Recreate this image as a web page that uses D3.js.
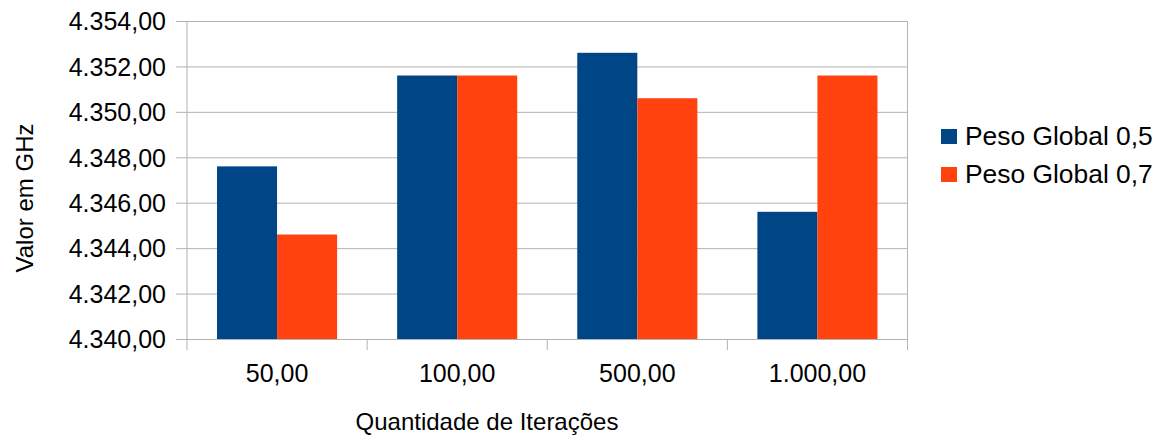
<!DOCTYPE html>
<html>
<head>
<meta charset="utf-8">
<script src="https://cdn.jsdelivr.net/npm/d3@7"></script>
<style>
  html, body { margin: 0; padding: 0; background: #ffffff; }
  svg { display: block; font-family: "Liberation Sans", Arial, sans-serif; }
</style>
</head>
<body>
<svg id="chart" width="1165" height="436"></svg>
<script>
// Iteration counts on the x axis
const categories = ["50,00", "100,00", "500,00", "1.000,00"];
// Series names
const seriesNames = ["Peso Global 0,5", "Peso Global 0,7"];
// Frequency (GHz) per iteration count, one array per global weight
const peso05 = [4347.6, 4351.6, 4352.6, 4345.6];
const peso07 = [4344.6, 4351.6, 4350.6, 4351.6];
// Y axis ticks
const yTicks = [4340, 4342, 4344, 4346, 4348, 4350, 4352, 4354];
const colors = ["#004586", "#ff420e"];

const series = [peso05, peso07];

const svg = d3.select("#chart");
const m = { left: 187, right: 907.5, top: 21, bottom: 339 };

const x = d3.scaleBand().domain(categories).range([m.left, m.right]).paddingInner(1/3).paddingOuter(1/6);
const xBand = d3.scaleBand().domain(d3.range(series.length)).range([0, x.bandwidth()]);
const y = d3.scaleLinear().domain([4340, 4354]).range([m.bottom, m.top]);

// pt-BR number format: dot for thousands, comma for decimals
const fmt = v => {
  const s = d3.format(",.2f")(v);
  return s.replace(/,/g, "#").replace(/\./g, ",").replace(/#/g, ".");
};

// horizontal gridlines with outward ticks
const yAxis = d3.axisLeft(y).tickValues(yTicks).tickSize(-(m.right - m.left)).tickPadding(0).tickFormat(fmt);
const gy = svg.append("g").attr("transform", `translate(${m.left},0)`).call(yAxis);
gy.select(".domain").remove();
gy.selectAll(".tick line").attr("stroke", "#b3b3b3").attr("stroke-width", 1).attr("x1", -11);
gy.selectAll(".tick text").attr("x", -21).attr("dy", "0.35em")
  .attr("font-size", 25).attr("fill", "#000").attr("font-family", "Liberation Sans, Arial, sans-serif");

// plot frame (left and right)
svg.append("line").attr("x1", m.left).attr("x2", m.left).attr("y1", m.top).attr("y2", m.bottom + 11).attr("stroke", "#b3b3b3");
svg.append("line").attr("x1", m.right).attr("x2", m.right).attr("y1", m.top).attr("y2", m.bottom).attr("stroke", "#b3b3b3");

// bars
const groups = svg.append("g").selectAll("g").data(categories).join("g")
  .attr("transform", c => `translate(${x(c)},0)`);
groups.selectAll("rect").data((c, i) => series.map((s, k) => ({ k, v: s[i] }))).join("rect")
  .attr("x", d => xBand(d.k))
  .attr("width", xBand.bandwidth())
  .attr("y", d => y(d.v))
  .attr("height", d => y(4340) - y(d.v))
  .attr("fill", d => colors[d.k]);

// category axis
const xAxis = d3.axisBottom(x).tickSize(0).tickPadding(0);
const gx = svg.append("g").attr("transform", `translate(0,${m.bottom})`).call(xAxis);
gx.select(".domain").attr("stroke", "#b3b3b3").attr("d", `M${m.left},0.5H${m.right}`);
gx.selectAll(".tick text").attr("y", 43).attr("dy", 0)
  .attr("font-size", 25).attr("fill", "#000").attr("font-family", "Liberation Sans, Arial, sans-serif");
// separators between categories
const seps = d3.range(categories.length + 1).map(i => m.left + i * (m.right - m.left) / categories.length);
svg.append("g").selectAll("line").data(seps.slice(1)).join("line")
  .attr("x1", d => d).attr("x2", d => d)
  .attr("y1", m.bottom).attr("y2", m.bottom + 11)
  .attr("stroke", "#b3b3b3");

// axis titles
svg.append("text").attr("x", 487).attr("y", 430)
  .attr("text-anchor", "middle").attr("font-size", 24).text("Quantidade de Iterações");
svg.append("text").attr("transform", `translate(33,198) rotate(-90)`)
  .attr("text-anchor", "middle").attr("font-size", 24).text("Valor em GHz");

// legend
const lg = svg.append("g").selectAll("g").data(seriesNames).join("g")
  .attr("transform", (d, i) => `translate(941,${129 + i * 38})`);
lg.append("rect").attr("width", 16).attr("height", 15).attr("fill", (d, i) => colors[i]);
lg.append("text").attr("x", 24).attr("y", 16).attr("font-size", 26.4).text(d => d);
</script>
</body>
</html>
